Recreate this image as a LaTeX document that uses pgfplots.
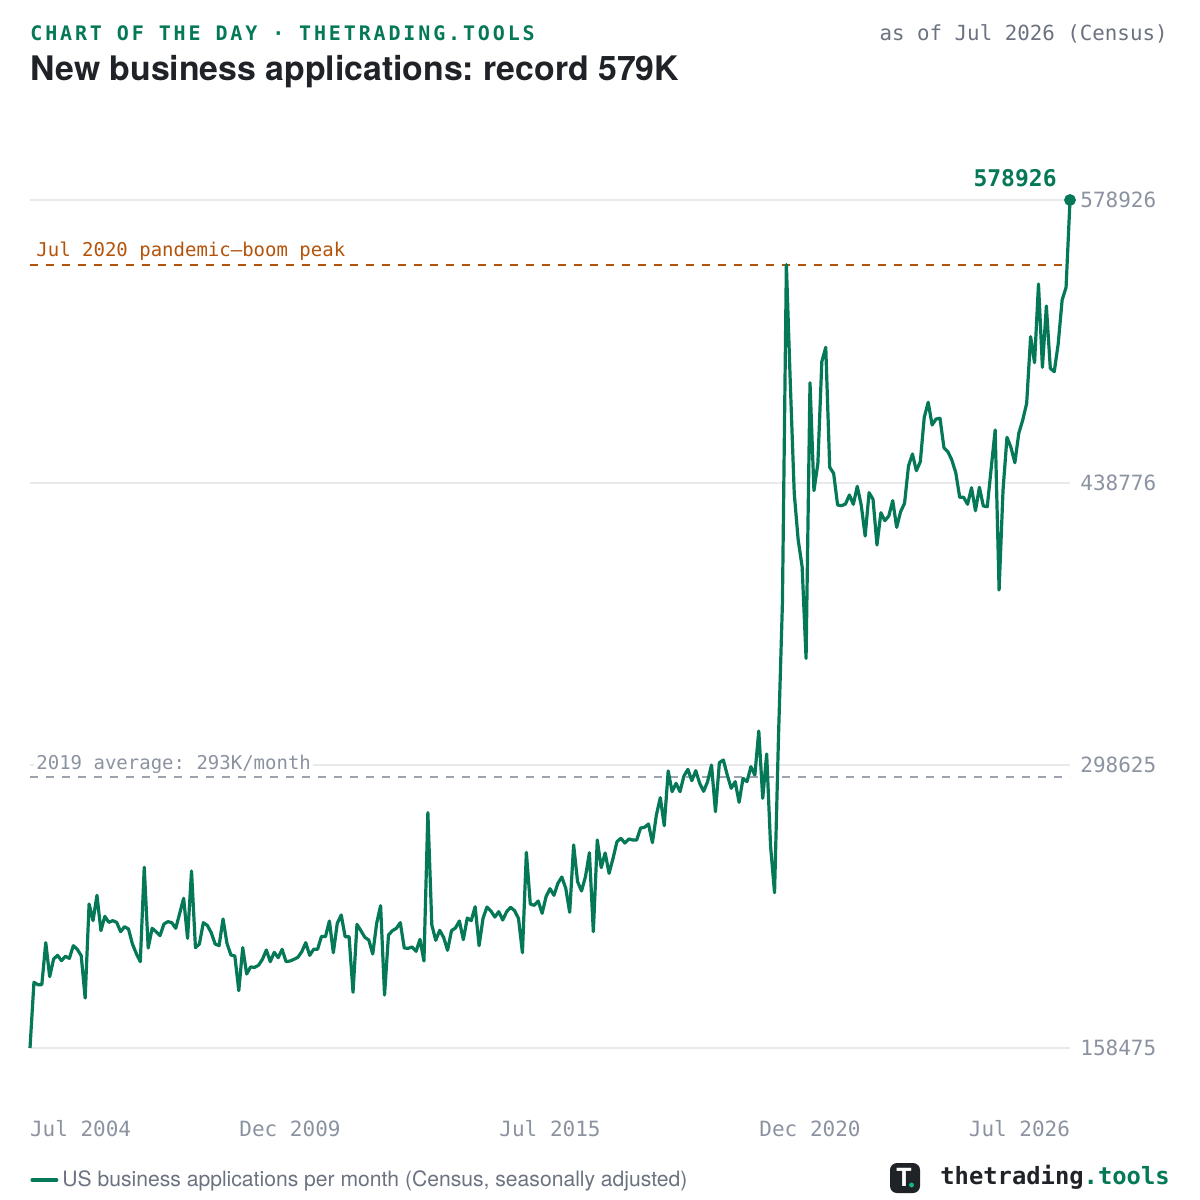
\documentclass[border=0pt]{standalone}
\usepackage{fontspec}
\usepackage{pgfplots}
\pgfplotsset{compat=1.18}
\setmainfont{TeX Gyre Heros}
\newfontfamily\mono{DejaVu Sans Mono}
\newfontfamily\monotrack[LetterSpace=14.3]{DejaVu Sans Mono}
\definecolor{brand}{HTML}{047857}
\definecolor{peak}{HTML}{B45309}
\definecolor{ink}{HTML}{1F2328}
\definecolor{muted}{HTML}{6B7280}
\definecolor{tick}{HTML}{8B93A1}
\definecolor{avg}{HTML}{9CA3AF}
\definecolor{gridc}{HTML}{E9EAEE}
\definecolor{dot}{HTML}{10B981}
\begin{document}
\frenchspacing
\begin{tikzpicture}
\begin{scope}[x=0.5pt,y=-0.5pt]
\useasboundingbox (0,0) rectangle (1200,1200);
\end{scope}
\begin{axis}[
    at={(15pt,-524pt)}, anchor=south west,
    scale only axis, width=520pt, height=424pt,
    xmin=0, xmax=264, ymin=158475, ymax=578926,
    clip=false,
    axis line style={draw=none},
    major tick length=0pt,
    ymajorgrids, grid style={gridc, line width=1pt},
    ytick={158475,298625,438776,578926},
    scaled y ticks=false,
    yticklabel pos=right,
    yticklabel style={/pgf/number format/.cd,fixed,precision=0,1000 sep={},assume math mode=true,
      /tikz/.cd, font=\fontsize{10.5pt}{12pt}\mono, text=tick, inner sep=0pt, xshift=5pt},
    xtick={0,66,132,198,264},
    xticklabels={\rlap{Jul 2004},Dec 2009,Jul 2015,Dec 2020,\llap{Jul 2026}},
    xticklabel style={font=\fontsize{10.5pt}{12pt}\mono, text=tick, anchor=base, inner sep=0pt, yshift=-44pt},
    legend style={at={(axis description cs:0,-0.1557)}, anchor=west, draw=none, fill=none, inner sep=0pt,
      font=\fontsize{10.56pt}{12pt}\selectfont\color{muted}, cells={anchor=west},
      /tikz/every even column/.append style={column sep=4.5pt}},
    legend image code/.code={\draw[#1, line cap=round, line width=2pt] (0.5pt,0pt) -- (12.5pt,0pt);},
]
\addplot[forget plot, avg, line width=1pt, dash pattern=on 4pt off 4pt] coordinates {(0,293000) (264,293000)};
\addplot[forget plot, peak, line width=1pt, dash pattern=on 4pt off 4pt] coordinates {(0,546946) (264,546946)};
\addplot[brand, line width=1.6pt, line join=round] coordinates {
(0,158475) (1,191043) (2,189886) (3,189886) (4,210710) (5,193853) (6,202612) (7,204430) (8,201786) (9,203934)
(10,202943) (11,209223) (12,207405) (13,204265) (14,183275) (15,229882) (16,221618) (17,234179) (18,216660) (19,223767)
(20,220792) (21,221618) (22,220792) (23,216164) (24,218643) (25,217486) (26,210049) (27,205256) (28,201290) (29,248061)
(30,208066) (31,217817) (32,216164) (33,214181) (34,219965) (35,221122) (36,220626) (37,217817) (38,225254) (39,232691)
(40,212859) (41,246243) (42,208231) (43,210049) (44,220626) (45,219304) (46,215668) (47,210049) (48,209223) (49,222444)
(50,210380) (51,204595) (52,204099) (53,186911) (54,208231) (55,195175) (56,198646) (57,198480) (58,199472) (59,202447)
(60,207074) (61,201290) (62,205917) (63,203273) (64,207405) (65,201290) (66,201620) (67,202447) (68,203438) (69,206248)
(70,210710) (71,204430) (72,207405) (73,207405) (74,213850) (75,213685) (76,221453) (77,205752) (78,220296) (79,224428)
(80,213685) (81,213685) (82,186085) (83,219800) (84,216660) (85,213355) (86,212032) (87,205091) (88,220296) (89,229055)
(90,184763) (91,214511) (92,216660) (93,217817) (94,220626) (95,208066) (96,207901) (97,208562) (98,206413) (99,212363)
(100,201620) (101,275166) (102,219470) (103,211867) (104,216825) (105,213355) (106,206909) (107,216660) (108,217982) (109,221453)
(110,212198) (111,222940) (112,221618) (113,228559) (114,209223) (115,222775) (116,228394) (117,226411) (118,223436) (119,226080)
(120,221949) (121,226080) (122,228229) (123,226576) (124,222775) (125,205752) (126,255498) (127,229881) (128,229220) (129,231368)
(130,225253) (131,233517) (132,237483) (133,234178) (134,240128) (135,243268) (136,237649) (137,225749) (138,259134) (139,240954)
(140,236326) (141,243433) (142,255333) (143,216164) (144,261613) (145,247895) (146,255167) (147,245086) (148,252523) (149,260786)
(150,262439) (151,260125) (152,262109) (153,261613) (154,261613) (155,267563) (156,267893) (157,269546) (158,260291) (159,274008)
(160,282602) (161,268719) (162,295824) (163,285577) (164,289709) (165,285577) (166,293345) (167,296650) (168,291031) (169,295989)
(170,289709) (171,285742) (172,290535) (173,298799) (174,275661) (175,299955) (176,301278) (177,293840) (178,287230) (179,290535)
(180,280288) (181,292188) (182,290535) (183,297972) (184,293840) (185,315656) (186,282272) (187,304252) (188,258307) (189,235500)
(190,312681) (191,379119) (192,546946) (193,488028) (194,433489) (195,410351) (196,397129) (197,351680) (198,488359) (199,434811)
(200,448363) (201,498771) (202,505877) (203,446380) (204,443405) (205,427704) (206,427374) (207,428200) (208,432663) (209,428035)
(210,436960) (211,427704) (212,412334) (213,433819) (214,430514) (215,407872) (216,423903) (217,419937) (218,422251) (219,429853)
(220,416631) (221,424399) (222,428550) (223,447043) (224,452993) (225,444713) (226,449175) (227,471189) (228,478626) (229,467371)
(230,470346) (231,470693) (232,456116) (233,454133) (234,450018) (235,443721) (236,431525) (237,431525) (238,428054) (239,436284)
(240,424881) (241,436483) (242,427211) (243,426864) (244,446052) (245,464892) (246,385564) (247,435144) (248,461273) (249,456315)
(250,448679) (251,463256) (252,469850) (253,478130) (254,511150) (255,498259) (256,537279) (257,495979) (258,526371) (259,495483)
(260,493797) (261,507531) (262,529346) (263,535643) (264,578926)
};
\addlegendentry{US business applications per month (Census, seasonally adjusted)}
\addplot[forget plot, only marks, brand, mark=*, mark size=2.75pt] coordinates {(264,578926)};
\end{axis}
\begin{scope}[x=0.5pt,y=-0.5pt]
% header
\node[anchor=base west, inner sep=0pt, text=brand] at (30,40) {\fontsize{10pt}{12pt}\monotrack\bfseries CHART OF THE DAY · THETRADING.TOOLS};
\node[anchor=base east, inner sep=0pt, text=muted] at (1168,40) {\fontsize{10.4pt}{12pt}\mono as of Jul 2026 (Census)};
\node[anchor=base west, inner sep=0pt, text=ink] at (30,80) {\fontsize{16.9pt}{20pt}\selectfont\bfseries New business applications: record 579K};
% annotations
\node[anchor=base west, inner sep=0pt, text=peak] at (36,256) {\fontsize{9.5pt}{12pt}\mono Jul 2020 pandemic–boom peak};
\node[anchor=base west, inner xsep=1pt, inner ysep=0.5pt, fill=white, text=tick] at (34,769) {\fontsize{9.5pt}{12pt}\mono 2019 average: 293K/month};
\node[anchor=base east, inner sep=0pt, text=brand] at (1057,186) {\fontsize{11.5pt}{12pt}\mono\bfseries 578926};
% logo
\fill[ink, rounded corners=3.5pt] (890,1163) rectangle (920,1193);
\node[text=white, inner sep=0pt] at (904,1177.5) {\fontsize{12.5pt}{14pt}\selectfont\bfseries T};
\fill[dot] (911.5,1185) circle (1.2pt);
\node[anchor=base west, inner sep=0pt, text=ink] at (940,1184) {\fontsize{11.9pt}{14pt}\mono\bfseries thetrading\textcolor{brand}{.tools}};
\end{scope}
\end{tikzpicture}
\end{document}
